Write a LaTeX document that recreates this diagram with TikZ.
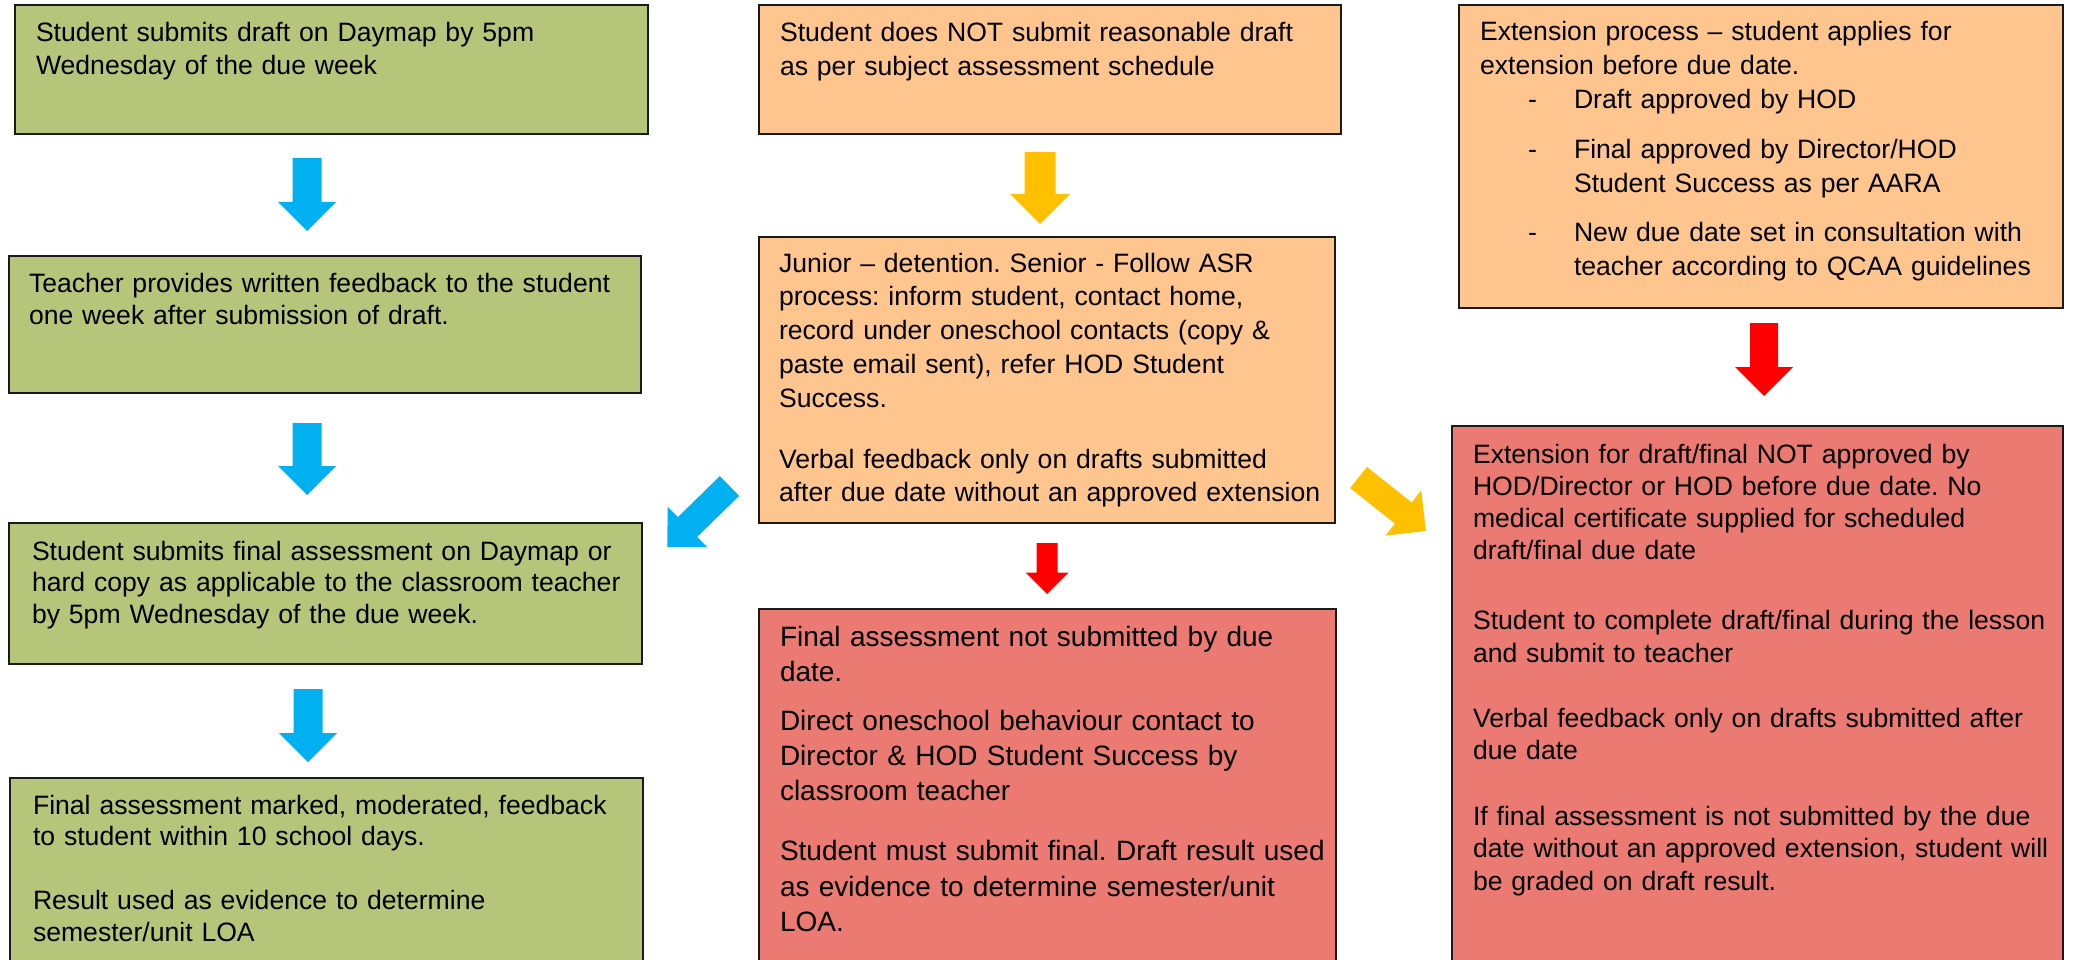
\documentclass[tikz,border=0pt]{standalone}
\usepackage{fontspec}
\setmainfont{Liberation Sans}
\frenchspacing
\definecolor{boxgreen}{HTML}{B5C67B}
\definecolor{boxorange}{HTML}{FFC58F}
\definecolor{boxred}{HTML}{EB7A73}
\definecolor{arrblue}{HTML}{00B0F0}
\definecolor{arryellow}{HTML}{FFC000}
\definecolor{arrred}{HTML}{FF0000}
\definecolor{edge}{HTML}{1A1A1A}
% #1 colour, #2 tail coordinate name, #3 angle, #4 length, #5 shaft half width, #6 head half width
\newcommand\blkarrow[6]{\fill[#1,shift={(#2)},rotate=#3] (0,-#5) -- ({#4-#6},-#5) -- ({#4-#6},-#6) -- (#4,0) -- ({#4-#6},#6) -- ({#4-#6},#5) -- (0,#5) -- cycle;}
\newcommand\fl{\noindent\rule{0pt}{20pt}}
\newcommand\flg{\noindent\rule{0pt}{22pt}}
\tikzset{
  box/.style={draw=edge, line width=2.2pt, rectangle, anchor=north west, inner sep=0pt, outer sep=0pt},
  txt/.style={anchor=north west, inner sep=0pt, outer sep=0pt, text width=680pt, align=left, font={\fontsize{26.6}{#1}\selectfont\frenchspacing}},
  txtbig/.style={anchor=north west, inner sep=0pt, outer sep=0pt, text width=680pt, align=left, font={\fontsize{28}{#1}\selectfont\frenchspacing}}
}
\begin{document}
\begin{tikzpicture}[x=1pt,y=-1pt]
\useasboundingbox (0,0) rectangle (2074,960);
\clip (0,0) rectangle (2074,960);
% boxes
\node[box, fill=boxgreen, minimum width=633pt, minimum height=129pt] (A) at (15,5) {};
\node[box, fill=boxgreen, minimum width=632pt, minimum height=137pt] (B) at (9,256) {};
\node[box, fill=boxgreen, minimum width=633pt, minimum height=141pt] (C) at (9,523) {};
\node[box, fill=boxgreen, minimum width=633pt, minimum height=200pt] (D) at (10,778) {};
\node[box, fill=boxorange, minimum width=582pt, minimum height=129pt] (E) at (759,5) {};
\node[box, fill=boxorange, minimum width=576pt, minimum height=286pt] (F) at (759,237) {};
\node[box, fill=boxred, minimum width=577pt, minimum height=370pt] (G) at (759,609) {};
\node[box, fill=boxorange, minimum width=604pt, minimum height=303pt] (H) at (1459,5) {};
\node[box, fill=boxred, minimum width=611pt, minimum height=550pt] (I) at (1452,426) {};
% texts
\node[txt=32.7] (tA) at (36,22) {\fl Student submits draft on Daymap by 5pm\\Wednesday of the due week};
\node[txt=32] (tB) at (29,272) {\fl Teacher provides written feedback to the student\\one week after submission of draft.};
\node[txt=31.7] (tC) at (32,540) {\fl Student submits final assessment on Daymap or\\hard copy as applicable to the classroom teacher\\by 5pm Wednesday of the due week.};
\node[txt=31.8] (tD) at (33,794) {\fl Final assessment marked, moderated, feedback\\to student within 10 school days.\\[32pt]Result used as evidence to determine\\semester/unit LOA};
\node[txt=33.5] (tE) at (780,22) {\fl Student does NOT submit reasonable draft\\as per subject assessment schedule};
\node[txt=33.8] (tF) at (779,252) {\fl Junior – detention. Senior - Follow ASR\\process: inform student, contact home,\\record under oneschool contacts (copy \&\\paste email sent), refer HOD Student\\Success.\\[27pt]Verbal feedback only on drafts submitted\\after due date without an approved extension};
\node[txtbig=35.3] (tG) at (780,624) {\flg Final assessment not submitted by due\\date.\\[13.7pt]Direct oneschool behaviour contact to\\Director \& HOD Student Success by\\classroom teacher\\[24.7pt]Student must submit final. Draft result used\\as evidence to determine semester/unit\\LOA.};
\node[txt=34] (tH) at (1480,21) {\fl Extension process – student applies for\\extension before due date.\\\hspace*{48pt}\makebox[46pt][l]{-}Draft approved by HOD\\[16pt]\hspace*{48pt}\makebox[46pt][l]{-}Final approved by Director/HOD\\\hspace*{94pt}Student Success as per AARA\\[15pt]\hspace*{48pt}\makebox[46pt][l]{-}New due date set in consultation with\\\hspace*{94pt}teacher according to QCAA guidelines};
\node[txt=32.3] (tI) at (1473,443) {\fl Extension for draft/final NOT approved by\\HOD/Director or HOD before due date. No\\medical certificate supplied for scheduled\\draft/final due date\\[37.7pt]Student to complete draft/final during the lesson\\and submit to teacher\\[32.7pt]Verbal feedback only on drafts submitted after\\due date\\[33.7pt]If final assessment is not submitted by the due\\date without an approved extension, student will\\be graded on draft result.};
% arrow tails
\coordinate (a1) at (307,158);
\coordinate (a2) at (307,423);
\coordinate (a3) at (308,689);
\coordinate (y1) at (1040,152);
\coordinate (r1) at (1764,323);
\coordinate (r2) at (1047,543);
\coordinate (bd) at (729.5,486);
\coordinate (yd) at (1358.5,477.5);
% arrows
\blkarrow{arrblue}{a1}{-90}{73}{14.5}{29}
\blkarrow{arrblue}{a2}{-90}{72}{14.5}{29}
\blkarrow{arrblue}{a3}{-90}{73}{14.5}{29}
\blkarrow{arryellow}{y1}{-90}{72}{15.5}{30}
\blkarrow{arrred}{r1}{-90}{73}{14}{29}
\blkarrow{arrred}{r2}{-90}{51}{10.5}{21.5}
\blkarrow{arrblue}{bd}{-135.7}{87}{13.8}{28.3}
\blkarrow{arryellow}{yd}{-38.4}{86}{13.5}{28.8}
\end{tikzpicture}
\end{document}
